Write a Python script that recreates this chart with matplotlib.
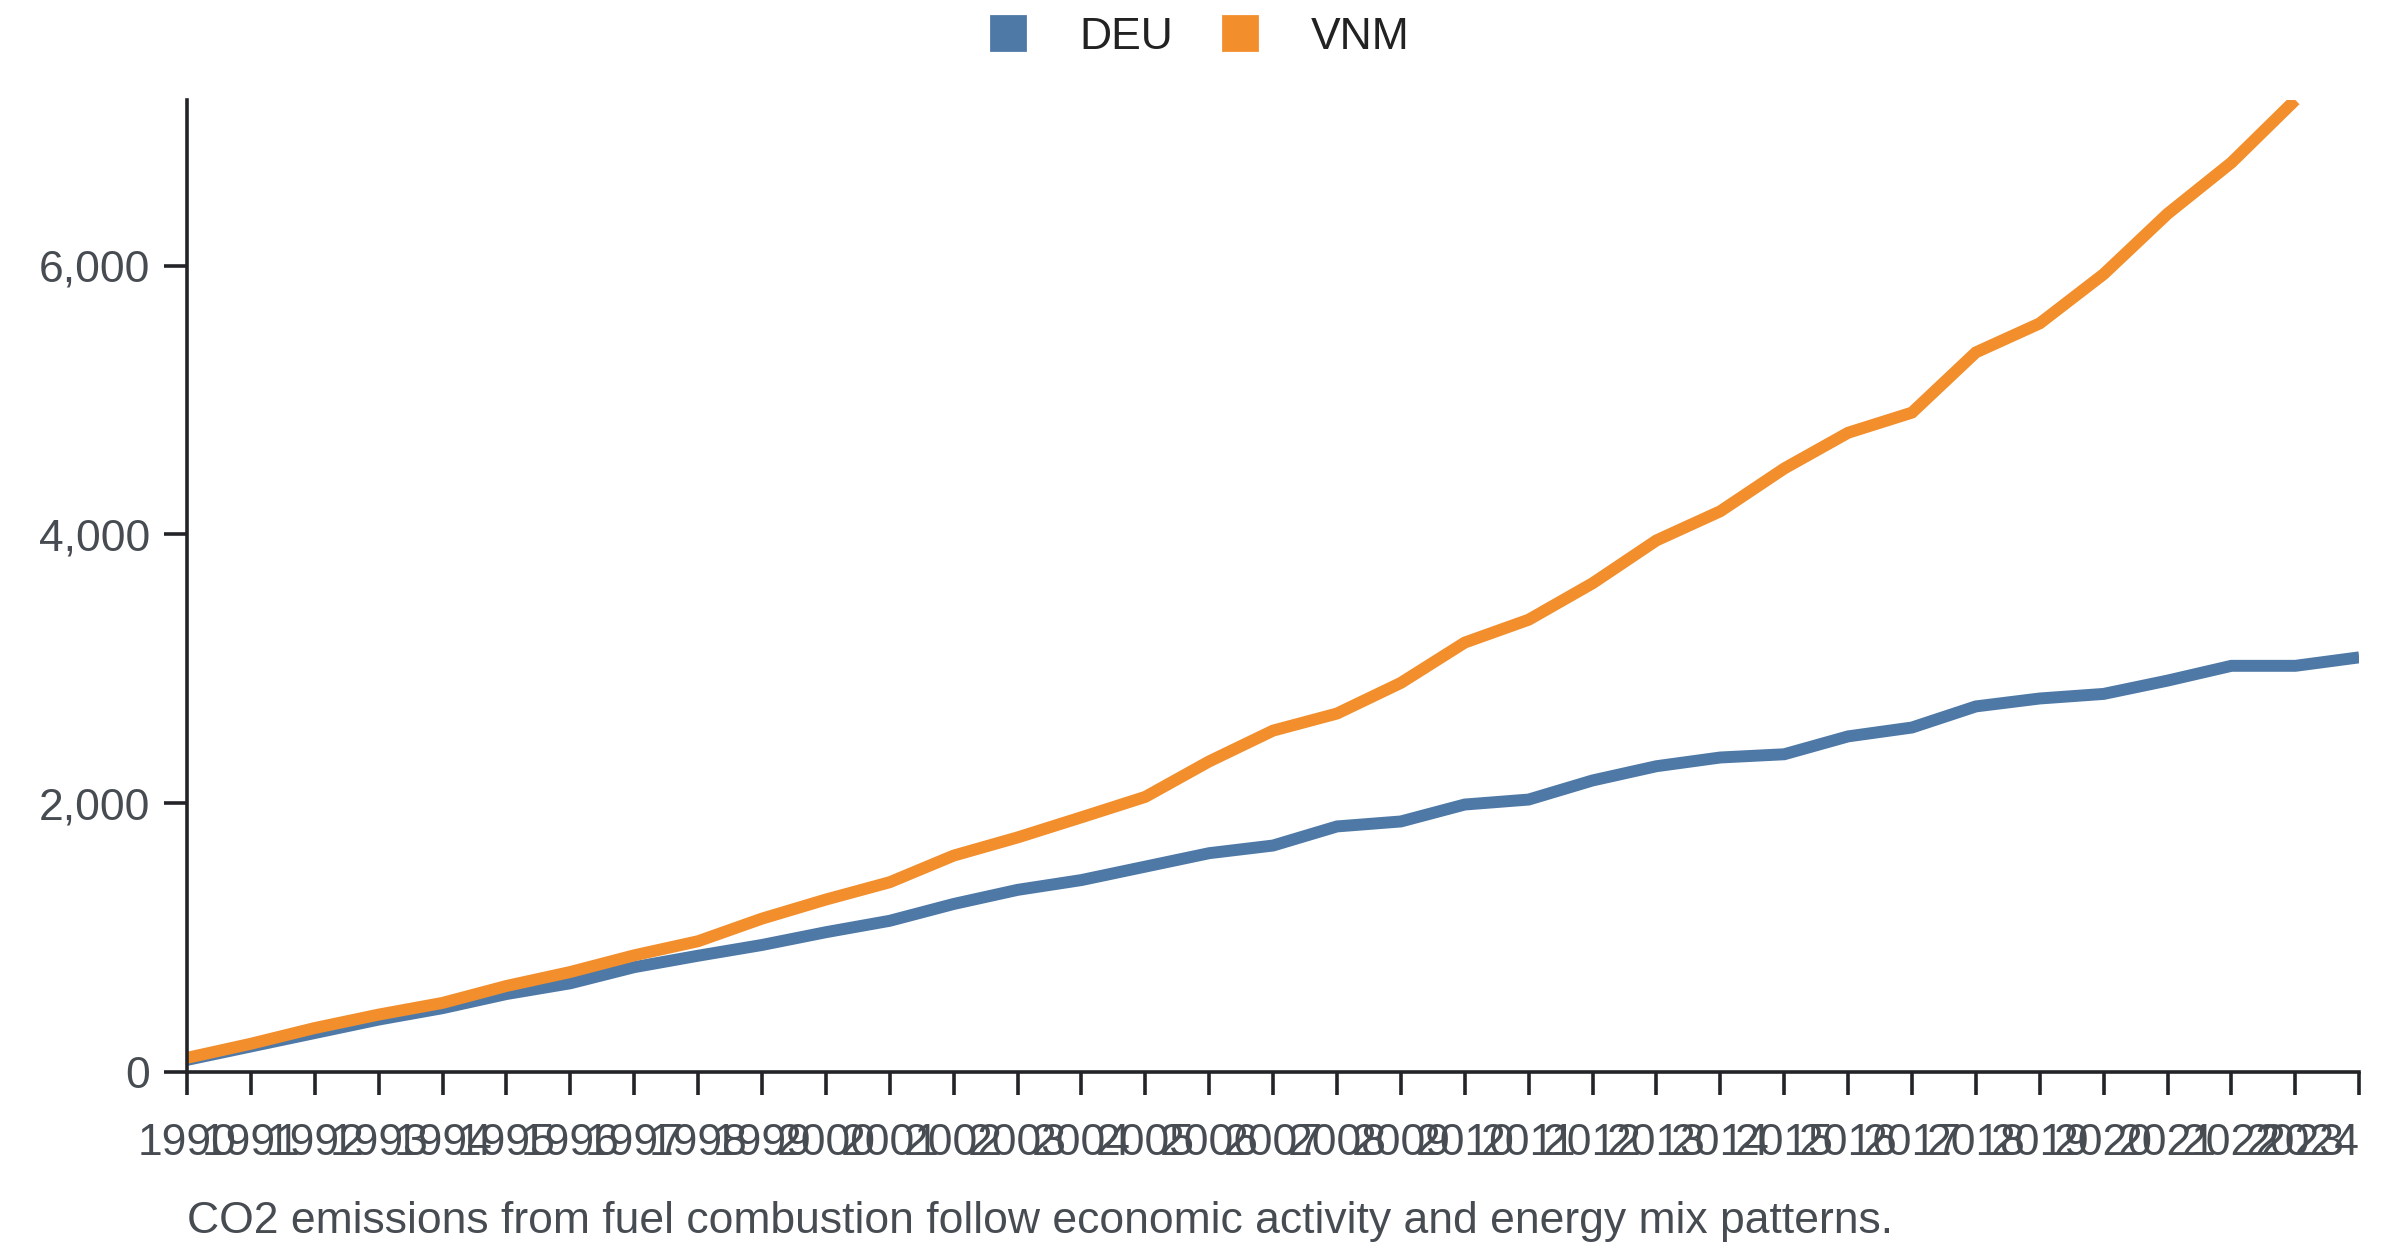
import matplotlib
matplotlib.use("Agg")
import matplotlib.pyplot as plt
from matplotlib.lines import Line2D
from matplotlib.ticker import FuncFormatter

plt.rcParams['font.family'] = ['Liberation Sans', 'DejaVu Sans']

# data
years = list(range(1990, 2025))
deu = [90, 190, 290, 390, 475, 580, 660, 780, 865, 945, 1040, 1125, 1250,
       1355, 1428, 1528, 1628, 1685, 1827, 1864, 1990, 2027, 2169, 2275, 2340,
       2364, 2497, 2563, 2720, 2779, 2813, 2912, 3022, 3022, 3085]
vnm_years = list(range(1990, 2024))
vnm = [105, 210, 327, 427, 514, 640, 744, 868, 973, 1141, 1283, 1412, 1610,
       1745, 1895, 2047, 2311, 2540, 2667, 2895, 3195, 3365, 3636, 3955, 4172,
       4490, 4756, 4906, 5354, 5570, 5936, 6385, 6766, 7232]
yticks = [0, 2000, 4000, 6000]
caption = "CO2 emissions from fuel combustion follow economic activity and energy mix patterns."

c_deu = '#4e79a7'
c_vnm = '#f28e2b'
txt = '#474c52'
axc = '#222428'

fig = plt.figure(figsize=(12, 6.28), dpi=200)
ax = fig.add_axes([0.0779, 0.1465, 0.983 - 0.0779, 0.9204 - 0.1465])

ax.plot(years, deu, color=c_deu, lw=4.3, solid_capstyle='butt', solid_joinstyle='miter', label='DEU')
ax.plot(vnm_years, vnm, color=c_vnm, lw=4.3, solid_capstyle='butt', solid_joinstyle='miter', label='VNM')

ax.set_xlim(1990, 2024)
ax.set_ylim(0, max(vnm))
ax.set_xticks(years)
ax.set_xticklabels([str(y) for y in years])
ax.set_yticks(yticks)
ax.yaxis.set_major_formatter(FuncFormatter(lambda v, p: f"{int(v):,}"))

for s in ['top', 'right']:
    ax.spines[s].set_visible(False)
for s in ['left', 'bottom']:
    ax.spines[s].set_color(axc)
    ax.spines[s].set_linewidth(1.3)

ax.tick_params(axis='both', length=8.3, width=1.3, color=axc, labelsize=16, labelcolor=txt)
ax.tick_params(axis='x', pad=10)
ax.tick_params(axis='y', pad=5)
ax.get_xticklabels()[-1].set_ha('right')

fig.text(0.0779, 0.018, caption, fontsize=16, color=txt, ha='left', va='baseline')

handles = [Line2D([], [], ls='none', marker='s', markersize=12, color=c_deu),
           Line2D([], [], ls='none', marker='s', markersize=12, color=c_vnm)]
fig.legend(handles, ['DEU', 'VNM'], loc='center', bbox_to_anchor=(0.5, 0.9705), ncol=2,
           frameon=False, fontsize=16, labelcolor='#222222', handlelength=0.8,
           handletextpad=1.2, columnspacing=1.1, borderpad=0)

fig.savefig('out.png', dpi=200)
